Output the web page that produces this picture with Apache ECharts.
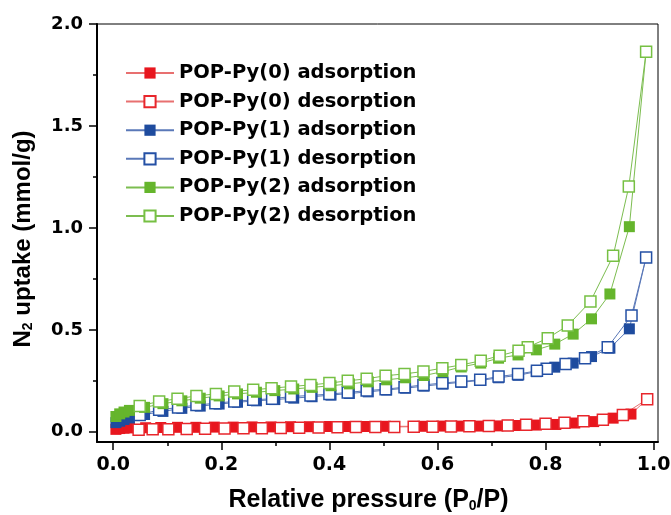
<!DOCTYPE html>
<html>
<head>
<meta charset="utf-8">
<script src="https://cdn.jsdelivr.net/npm/echarts@6/dist/echarts.min.js"></script>
<style>
  html, body { margin: 0; padding: 0; background: #fff; }
  #chart { width: 671px; height: 515px; }
</style>
</head>
<body>
<div id="chart"></div>
<script>
// tick positions
const xTicks = [0, 0.2, 0.4, 0.6, 0.8, 1.0];
const xMinorTicks = [0.1, 0.3, 0.5, 0.7, 0.9];
const yTicks = [0, 0.5, 1.0, 1.5, 2.0];
const yMinorTicks = [0.25, 0.75, 1.25, 1.75];

// POP-Py(0)
const p0AdsX = [0.005, 0.012, 0.02, 0.03, 0.06, 0.088, 0.119, 0.153, 0.187, 0.222, 0.257, 0.292, 0.328, 0.363, 0.4, 0.434, 0.469, 0.504, 0.573, 0.608, 0.643, 0.676, 0.712, 0.747, 0.783, 0.819, 0.854, 0.889, 0.925, 0.958, 0.988];
const p0AdsY = [0.012, 0.016, 0.018, 0.019, 0.02, 0.021, 0.022, 0.022, 0.023, 0.023, 0.024, 0.024, 0.025, 0.025, 0.026, 0.026, 0.026, 0.027, 0.027, 0.028, 0.028, 0.028, 0.029, 0.031, 0.033, 0.036, 0.043, 0.05, 0.067, 0.087, 0.16];
const p0DesX = [0.988, 0.943, 0.906, 0.87, 0.835, 0.8, 0.764, 0.73, 0.695, 0.659, 0.625, 0.591, 0.556, 0.52, 0.485, 0.449, 0.415, 0.38, 0.344, 0.31, 0.275, 0.241, 0.206, 0.17, 0.136, 0.102, 0.073, 0.047];
const p0DesY = [0.16, 0.083, 0.059, 0.052, 0.045, 0.039, 0.034, 0.031, 0.029, 0.027, 0.026, 0.025, 0.025, 0.024, 0.024, 0.023, 0.022, 0.021, 0.02, 0.019, 0.018, 0.017, 0.016, 0.015, 0.014, 0.013, 0.012, 0.01];

// POP-Py(1) and POP-Py(2) adsorption pressures
const adsX = [0.005, 0.012, 0.02, 0.03, 0.058, 0.092, 0.127, 0.161, 0.196, 0.23, 0.265, 0.299, 0.334, 0.368, 0.403, 0.437, 0.472, 0.506, 0.541, 0.575, 0.61, 0.644, 0.68, 0.713, 0.749, 0.783, 0.817, 0.851, 0.885, 0.919, 0.955, 0.986];
const p1AdsY = [0.045, 0.052, 0.06, 0.068, 0.085, 0.1, 0.115, 0.126, 0.136, 0.145, 0.152, 0.158, 0.165, 0.172, 0.18, 0.188, 0.196, 0.205, 0.214, 0.224, 0.234, 0.243, 0.252, 0.265, 0.277, 0.295, 0.317, 0.337, 0.369, 0.41, 0.505, 0.855];
const p2AdsY = [0.075, 0.088, 0.097, 0.105, 0.12, 0.138, 0.152, 0.165, 0.176, 0.186, 0.194, 0.202, 0.21, 0.218, 0.226, 0.235, 0.245, 0.255, 0.265, 0.276, 0.295, 0.318, 0.337, 0.361, 0.377, 0.402, 0.43, 0.479, 0.554, 0.676, 1.006, 1.864];

const p1DesX = [0.986, 0.959, 0.915, 0.873, 0.837, 0.802, 0.784, 0.749, 0.713, 0.679, 0.644, 0.609, 0.574, 0.539, 0.504, 0.469, 0.434, 0.4, 0.365, 0.329, 0.294, 0.259, 0.224, 0.189, 0.154, 0.12, 0.085, 0.049];
const p1DesY = [0.855, 0.57, 0.415, 0.361, 0.332, 0.309, 0.299, 0.283, 0.271, 0.255, 0.247, 0.239, 0.23, 0.219, 0.209, 0.202, 0.193, 0.185, 0.178, 0.173, 0.162, 0.157, 0.149, 0.14, 0.131, 0.119, 0.108, 0.083];
const p2DesX = [0.986, 0.954, 0.925, 0.883, 0.841, 0.804, 0.767, 0.75, 0.715, 0.68, 0.644, 0.609, 0.574, 0.539, 0.504, 0.469, 0.434, 0.4, 0.365, 0.329, 0.293, 0.259, 0.224, 0.19, 0.154, 0.119, 0.085, 0.049];
const p2DesY = [1.864, 1.203, 0.863, 0.639, 0.521, 0.459, 0.415, 0.398, 0.373, 0.348, 0.328, 0.312, 0.296, 0.284, 0.275, 0.26, 0.25, 0.239, 0.23, 0.222, 0.214, 0.206, 0.198, 0.186, 0.176, 0.162, 0.149, 0.127];

const FONT = '"Liberation Sans", Arial, sans-serif';
const WIDE = '"DejaVu Sans", sans-serif';

const zip = (xs, ys) => xs.map((x, i) => [x, ys[i]]);

const makeSeries = (name, xs, ys, color, lineColor, filled) => ({
    name: name,
    type: 'line',
    data: zip(xs, ys),
    symbol: 'rect',
    symbolSize: 11,
    showAllSymbol: true,
    lineStyle: { color: lineColor, width: 1 },
    itemStyle: filled
        ? { color: color, borderColor: color, borderWidth: 0 }
        : { color: '#fff', borderColor: color, borderWidth: 1.5 },
    emphasis: { disabled: true }
})

const chart = echarts.init(document.getElementById('chart'), null, { renderer: 'canvas' });

const tickLabel = {
    fontFamily: WIDE,
    fontWeight: 'bold',
    fontSize: 18,
    color: '#000',
    formatter: v => v.toFixed(1)
}

const subStyle = { fontFamily: FONT, fontWeight: 'bold', fontSize: 14, color: '#000', verticalAlign: 'bottom', lineHeight: 14, padding: [15, 0, 0, 0] }

const option = {
    animation: false,
    backgroundColor: '#fff',
    grid: {
        left: 97, right: 13, top: 24, bottom: 73,
        show: true, borderColor: '#000', borderWidth: 1,
        outerBoundsMode: 'none'
    },
    legend: {
        orient: 'vertical',
        left: 120,
        top: 58,
        itemWidth: 48,
        itemHeight: 14,
        itemGap: 8.6,
        textStyle: { fontFamily: WIDE, fontWeight: 'bold', fontSize: 19.5, lineHeight: 20, color: '#000' }
    },
    xAxis: [
        {
            type: 'value', min: -0.03, max: 1.008,
            name: 'Relative pressure (P{sub|0}/P)',
            nameLocation: 'middle',
            nameGap: 46,
            nameTextStyle: {
                fontFamily: FONT, fontWeight: 'bold', fontSize: 25, color: '#000',
                padding: [0, 18, 0, 0],
                rich: { sub: subStyle }
            },
            axisLine: { show: true, onZero: false, lineStyle: { color: '#000', width: 2 } },
            axisTick: { show: true, customValues: xTicks, length: 8, lineStyle: { color: '#000', width: 1.5 } },
            axisLabel: Object.assign({ customValues: xTicks, margin: 14 }, tickLabel, { fontSize: 19 }),
            splitLine: { show: false }
        },
        {
            type: 'value', min: -0.03, max: 1.008, position: 'bottom',
            axisLine: { show: false, onZero: false },
            axisTick: { show: true, customValues: xMinorTicks, length: 4, lineStyle: { color: '#000', width: 1.5 } },
            axisLabel: { show: false },
            splitLine: { show: false }
        }
    ],
    yAxis: [
        {
            type: 'value', min: -0.05, max: 2.0,
            name: 'N{sub|2} uptake (mmol/g)',
            nameLocation: 'middle',
            nameGap: 62,
            nameTextStyle: {
                fontFamily: FONT, fontWeight: 'bold', fontSize: 24, color: '#000',
                padding: [0, 12, 0, 0],
                rich: { sub: subStyle }
            },
            axisLine: { show: true, onZero: false, lineStyle: { color: '#000', width: 2 } },
            axisTick: { show: true, customValues: yTicks, length: 8, lineStyle: { color: '#000', width: 1.5 } },
            axisLabel: Object.assign({ customValues: yTicks, margin: 14 }, tickLabel),
            splitLine: { show: false }
        },
        {
            type: 'value', min: -0.05, max: 2.0, position: 'left',
            axisLine: { show: false, onZero: false },
            axisTick: { show: true, customValues: yMinorTicks, length: 4, lineStyle: { color: '#000', width: 1.5 } },
            axisLabel: { show: false },
            splitLine: { show: false }
        }
    ],
    series: [
        makeSeries('POP-Py(0) adsorption', p0AdsX, p0AdsY, '#e8161e', '#e87070', true),
        makeSeries('POP-Py(0) desorption', p0DesX, p0DesY, '#e8262c', '#e87070', false),
        makeSeries('POP-Py(1) adsorption', adsX, p1AdsY, '#1e4b9e', '#5a78b8', true),
        makeSeries('POP-Py(1) desorption', p1DesX, p1DesY, '#2450a5', '#5a78b8', false),
        makeSeries('POP-Py(2) adsorption', adsX, p2AdsY, '#65b52c', '#7cbd50', true),
        makeSeries('POP-Py(2) desorption', p2DesX, p2DesY, '#76c043', '#7cbd50', false)
    ]
}

chart.setOption(option)
</script>
</body>
</html>
